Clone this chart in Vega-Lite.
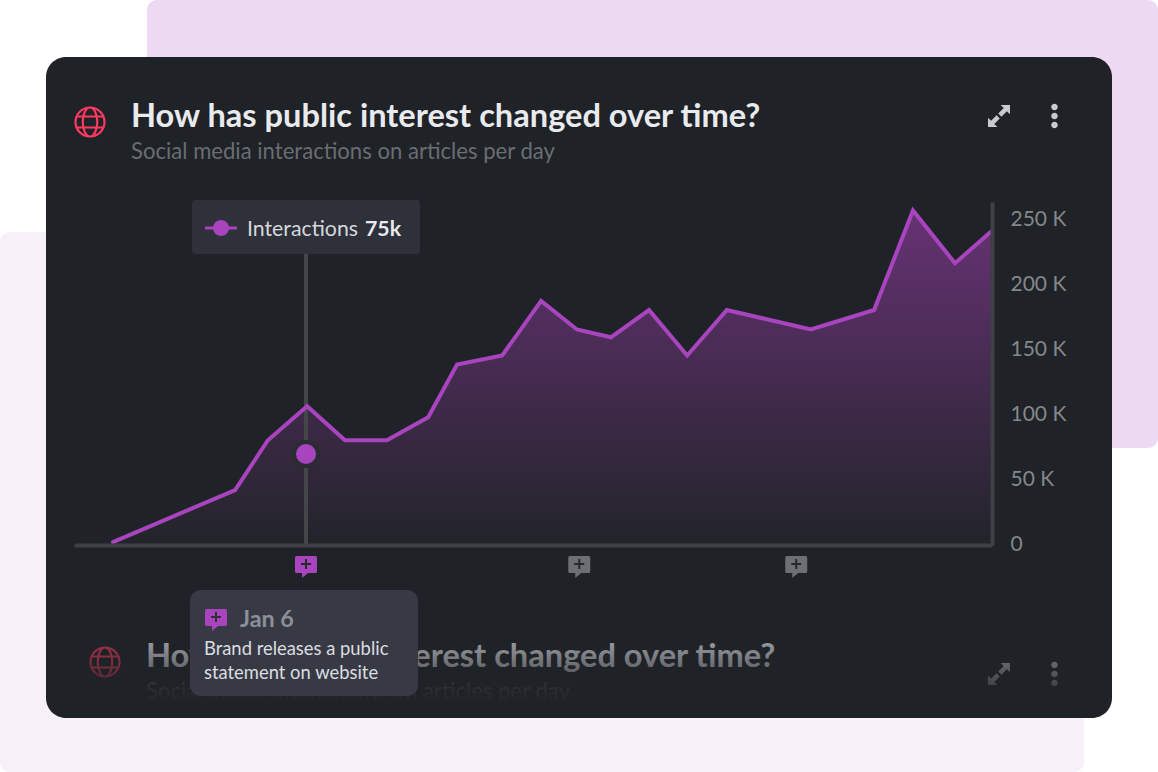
{
  "$schema": "https://vega.github.io/schema/vega-lite/v6.json",
  "description": "Dashboard card: social media interactions on articles per day, with event markers.",
  "width": 1158,
  "height": 772,
  "padding": 0,
  "autosize": {"type": "fit", "contains": "padding"},
  "background": "#ffffff",
  "config": {"view": {"stroke": null}, "text": {"font": "Lato", "align": "left", "baseline": "middle"}},
  "datasets": {
    "card": [{"card": "public interest"}],
    "interactions": [
      {"day": 0.99, "value": 1500},
      {"day": 4.16, "value": 41500},
      {"day": 5.01, "value": 79800},
      {"day": 6.03, "value": 106000},
      {"day": 7.01, "value": 79800},
      {"day": 8.10, "value": 79800},
      {"day": 9.17, "value": 97500},
      {"day": 9.92, "value": 138000},
      {"day": 11.09, "value": 145000},
      {"day": 12.10, "value": 187000},
      {"day": 13.03, "value": 165000},
      {"day": 13.91, "value": 159000},
      {"day": 14.90, "value": 180000},
      {"day": 15.89, "value": 145000},
      {"day": 16.92, "value": 180000},
      {"day": 19.10, "value": 165000},
      {"day": 20.74, "value": 180000},
      {"day": 21.75, "value": 256500},
      {"day": 22.84, "value": 216000},
      {"day": 23.80, "value": 241000}
    ],
    "markers": [
      {"day": 6, "value": 0, "state": "active"},
      {"day": 13.09, "value": 0, "state": "idle"},
      {"day": 18.72, "value": 0, "state": "idle"}
    ],
    "hover": [{"day": 6, "value": 69200}]
  },
  "data": {"name": "card"},
  "resolve": {"scale": {"x": "independent", "y": "independent"}},
  "layer": [
    {
      "layer": [
        {"mark": {"type": "rect", "color": "#eed9f2", "cornerRadius": 10}, "encoding": {"x": {"datum": 147, "type": "quantitative", "axis": null, "scale": {"domain": [0, 1158], "range": [0, 1158], "nice": false}}, "x2": {"datum": 1158}, "y": {"datum": 0, "type": "quantitative", "axis": null, "scale": {"domain": [0, 772], "range": [0, 772], "nice": false}}, "y2": {"datum": 448}}},
        {"mark": {"type": "rect", "color": "#f7f0f9", "cornerRadius": 10}, "encoding": {"x": {"datum": 0, "type": "quantitative", "axis": null}, "x2": {"datum": 1084}, "y": {"datum": 232, "type": "quantitative", "axis": null}, "y2": {"datum": 772}}},
        {"mark": {"type": "rect", "color": "#1f2227", "cornerRadius": 20}, "encoding": {"x": {"datum": 46, "type": "quantitative", "axis": null}, "x2": {"datum": 1112}, "y": {"datum": 57, "type": "quantitative", "axis": null}, "y2": {"datum": 718}}},

        {"mark": {"type": "point", "filled": false, "stroke": "#ff3a60", "strokeWidth": 2.2, "size": 841, "opacity": 1, "shape": "M-1,0A1,1,0,1,1,1,0A1,1,0,1,1,-1,0ZM0,-1A0.5,1,0,0,0,0,1A0.5,1,0,0,0,0,-1ZM-0.925,-0.38H0.925M-0.925,0.38H0.925"}, "encoding": {"x": {"datum": 90, "type": "quantitative", "axis": null}, "y": {"datum": 122, "type": "quantitative", "axis": null}}},
        {"mark": {"type": "text", "fontSize": 32.6, "fontWeight": 700, "color": "#e8eaee"}, "encoding": {"text": {"value": "How has public interest changed over time?"}, "x": {"datum": 131, "type": "quantitative", "axis": null}, "y": {"datum": 117, "type": "quantitative", "axis": null}}},
        {"mark": {"type": "text", "fontSize": 22.1, "color": "#6a6d72"}, "encoding": {"text": {"value": "Social media interactions on articles per day"}, "x": {"datum": 131, "type": "quantitative", "axis": null}, "y": {"datum": 152, "type": "quantitative", "axis": null}}},
        {"mark": {"type": "point", "filled": true, "color": "#c8cacd", "opacity": 1, "size": 484, "shape": "M0.15,-1H1V-0.15L0.72,-0.43L0.22,0.07L-0.07,-0.22L0.43,-0.72ZM-0.15,1H-1V0.15L-0.72,0.43L-0.22,-0.07L0.07,0.22L-0.43,0.72Z"}, "encoding": {"x": {"datum": 999, "type": "quantitative", "axis": null}, "y": {"datum": 116, "type": "quantitative", "axis": null}}},
        {"mark": {"type": "point", "filled": true, "color": "#c8cacd", "opacity": 1, "size": 484, "shape": "M-0.3,0A0.3,0.3,0,1,1,0.3,0A0.3,0.3,0,1,1,-0.3,0ZM-0.3,-0.82A0.3,0.3,0,1,1,0.3,-0.82A0.3,0.3,0,1,1,-0.3,-0.82ZM-0.3,0.82A0.3,0.3,0,1,1,0.3,0.82A0.3,0.3,0,1,1,-0.3,0.82Z"}, "encoding": {"x": {"datum": 1054.5, "type": "quantitative", "axis": null}, "y": {"datum": 116, "type": "quantitative", "axis": null}}},

        {"mark": {"type": "point", "filled": false, "stroke": "#ff3a60", "strokeWidth": 2.2, "size": 841, "opacity": 1, "shape": "M-1,0A1,1,0,1,1,1,0A1,1,0,1,1,-1,0ZM0,-1A0.5,1,0,0,0,0,1A0.5,1,0,0,0,0,-1ZM-0.925,-0.38H0.925M-0.925,0.38H0.925"}, "encoding": {"x": {"datum": 105, "type": "quantitative", "axis": null}, "y": {"datum": 662, "type": "quantitative", "axis": null}}},
        {"mark": {"type": "text", "fontSize": 32.6, "fontWeight": 700, "color": "#e8eaee"}, "encoding": {"text": {"value": "How has public interest changed over time?"}, "x": {"datum": 146, "type": "quantitative", "axis": null}, "y": {"datum": 657, "type": "quantitative", "axis": null}}},
        {"mark": {"type": "text", "fontSize": 22.1, "color": "#6a6d72"}, "encoding": {"text": {"value": "Social media interactions on articles per day"}, "x": {"datum": 146, "type": "quantitative", "axis": null}, "y": {"datum": 692, "type": "quantitative", "axis": null}}},
        {"mark": {"type": "point", "filled": true, "color": "#c8cacd", "opacity": 1, "size": 484, "shape": "M0.15,-1H1V-0.15L0.72,-0.43L0.22,0.07L-0.07,-0.22L0.43,-0.72ZM-0.15,1H-1V0.15L-0.72,0.43L-0.22,-0.07L0.07,0.22L-0.43,0.72Z"}, "encoding": {"x": {"datum": 999, "type": "quantitative", "axis": null}, "y": {"datum": 674, "type": "quantitative", "axis": null}}},
        {"mark": {"type": "point", "filled": true, "color": "#c8cacd", "opacity": 1, "size": 484, "shape": "M-0.3,0A0.3,0.3,0,1,1,0.3,0A0.3,0.3,0,1,1,-0.3,0ZM-0.3,-0.82A0.3,0.3,0,1,1,0.3,-0.82A0.3,0.3,0,1,1,-0.3,-0.82ZM-0.3,0.82A0.3,0.3,0,1,1,0.3,0.82A0.3,0.3,0,1,1,-0.3,0.82Z"}, "encoding": {"x": {"datum": 1054.5, "type": "quantitative", "axis": null}, "y": {"datum": 674, "type": "quantitative", "axis": null}}},
        {"mark": {"type": "rect", "color": {"gradient": "linear", "x1": 0, "y1": 0, "x2": 0, "y2": 1, "stops": [{"offset": 0, "color": "rgba(31,34,39,0.35)"}, {"offset": 1, "color": "rgba(31,34,39,1)"}]}}, "encoding": {"x": {"datum": 60, "type": "quantitative", "axis": null}, "x2": {"datum": 1100}, "y": {"datum": 636, "type": "quantitative", "axis": null}, "y2": {"datum": 706}}}
      ]
    },
    {
      "encoding": {
        "x": {"field": "day", "type": "quantitative", "scale": {"domain": [-0.02, 23.8], "range": [74, 992], "nice": false}, "axis": {"orient": "bottom", "offset": -227, "labels": false, "ticks": false, "grid": false, "title": null, "domainColor": "#3d4044", "domainWidth": 4, "zindex": 1}},
        "y": {"field": "value", "type": "quantitative", "scale": {"domain": [-769, 263077], "range": [545, 202], "zero": false, "nice": false}, "axis": {"orient": "right", "offset": -166, "values": [0, 50000, 100000, 150000, 200000, 250000], "labelExpr": "datum.value == 0 ? '0' : datum.value / 1000 + ' K'", "ticks": false, "grid": false, "title": null, "domainColor": "#3d4044", "domainWidth": 4, "labelPadding": 18, "labelColor": "#85878b", "labelFont": "Lato", "labelFontSize": 21, "zindex": 1}}
      },
      "layer": [
        {"data": {"name": "interactions"}, "mark": {"type": "area", "color": {"gradient": "linear", "x1": 0, "y1": 0, "x2": 0, "y2": 1, "stops": [{"offset": 0, "color": "#673274"}, {"offset": 1, "color": "#22242a"}]}}},
        {"data": {"name": "hover"}, "mark": {"type": "rule", "color": "#44464a", "strokeWidth": 4}, "encoding": {"y": {"datum": 0, "type": "quantitative", "axis": {"orient": "right", "offset": -166, "values": [0, 50000, 100000, 150000, 200000, 250000], "labelExpr": "datum.value == 0 ? '0' : datum.value / 1000 + ' K'", "ticks": false, "grid": false, "title": null, "domainColor": "#3d4044", "domainWidth": 4, "labelPadding": 18, "labelColor": "#85878b", "labelFont": "Lato", "labelFontSize": 21, "zindex": 1}}, "y2": {"datum": 223000}}},
        {"data": {"name": "interactions"}, "mark": {"type": "line", "color": "#a944bf", "strokeWidth": 4, "strokeCap": "round"}},
        {"data": {"name": "hover"}, "mark": {"type": "point", "filled": true, "fill": "#a944bf", "stroke": "#2a2c31", "strokeWidth": 4, "size": 576, "opacity": 1}},
        {"data": {"name": "markers"}, "mark": {"type": "point", "filled": true, "opacity": 1, "size": 484, "yOffset": 23, "shape": "M-0.85,-1H0.85Q1,-1,1,-0.85V0.4Q1,0.55,0.85,0.55H0.18L-0.36,1V0.55H-0.85Q-1,0.55,-1,0.4V-0.85Q-1,-1,-0.85,-1Z"}, "encoding": {"color": {"field": "state", "type": "nominal", "legend": null, "scale": {"domain": ["active", "idle"], "range": ["#a944bf", "#6c6f74"]}}}},
        {"data": {"name": "markers"}, "mark": {"type": "point", "filled": false, "stroke": "#26282d", "strokeWidth": 2, "opacity": 1, "size": 100, "yOffset": 20, "shape": "M-1,0H1M0,-1V1"}}
      ]
    },
    {
      "layer": [
        {"mark": {"type": "rect", "color": "#2e313a", "cornerRadius": 3}, "encoding": {"x": {"datum": 192, "type": "quantitative", "axis": null, "scale": {"domain": [0, 1158], "range": [0, 1158], "nice": false}}, "x2": {"datum": 420}, "y": {"datum": 200, "type": "quantitative", "axis": null, "scale": {"domain": [0, 772], "range": [0, 772], "nice": false}}, "y2": {"datum": 254}}},
        {"mark": {"type": "rule", "color": "#a944bf", "strokeWidth": 3}, "encoding": {"x": {"datum": 205, "type": "quantitative", "axis": null}, "x2": {"datum": 237}, "y": {"datum": 228, "type": "quantitative", "axis": null}}},
        {"mark": {"type": "point", "filled": true, "color": "#a944bf", "opacity": 1, "size": 256}, "encoding": {"x": {"datum": 221, "type": "quantitative", "axis": null}, "y": {"datum": 228, "type": "quantitative", "axis": null}}},
        {"mark": {"type": "text", "fontSize": 21.3, "color": "#d6d8dd"}, "encoding": {"text": {"value": "Interactions"}, "x": {"datum": 247, "type": "quantitative", "axis": null}, "y": {"datum": 230, "type": "quantitative", "axis": null}}},
        {"mark": {"type": "text", "fontSize": 21.3, "fontWeight": 700, "color": "#e8eaee"}, "encoding": {"text": {"value": "75k"}, "x": {"datum": 365, "type": "quantitative", "axis": null}, "y": {"datum": 230, "type": "quantitative", "axis": null}}},

        {"mark": {"type": "rect", "color": "#373a44", "cornerRadius": 11}, "encoding": {"x": {"datum": 190, "type": "quantitative", "axis": null}, "x2": {"datum": 418}, "y": {"datum": 590, "type": "quantitative", "axis": null}, "y2": {"datum": 696}}},
        {"mark": {"type": "point", "filled": true, "color": "#a944bf", "opacity": 1, "size": 484, "shape": "M-0.85,-1H0.85Q1,-1,1,-0.85V0.4Q1,0.55,0.85,0.55H0.18L-0.36,1V0.55H-0.85Q-1,0.55,-1,0.4V-0.85Q-1,-1,-0.85,-1Z"}, "encoding": {"x": {"datum": 216, "type": "quantitative", "axis": null}, "y": {"datum": 620, "type": "quantitative", "axis": null}}},
        {"mark": {"type": "point", "filled": false, "stroke": "#2e3036", "strokeWidth": 2, "opacity": 1, "size": 100, "shape": "M-1,0H1M0,-1V1"}, "encoding": {"x": {"datum": 216, "type": "quantitative", "axis": null}, "y": {"datum": 617, "type": "quantitative", "axis": null}}},
        {"mark": {"type": "text", "fontSize": 23.4, "fontWeight": 700, "color": "#8d9097"}, "encoding": {"text": {"value": "Jan 6"}, "x": {"datum": 240, "type": "quantitative", "axis": null}, "y": {"datum": 620, "type": "quantitative", "axis": null}}},
        {"mark": {"type": "text", "fontSize": 18.4, "color": "#dcdde1"}, "encoding": {"text": {"value": "Brand releases a public"}, "x": {"datum": 204, "type": "quantitative", "axis": null}, "y": {"datum": 649, "type": "quantitative", "axis": null}}},
        {"mark": {"type": "text", "fontSize": 18.4, "color": "#dcdde1"}, "encoding": {"text": {"value": "statement on website"}, "x": {"datum": 204, "type": "quantitative", "axis": null}, "y": {"datum": 673, "type": "quantitative", "axis": null}}}
      ]
    }
  ]
}
